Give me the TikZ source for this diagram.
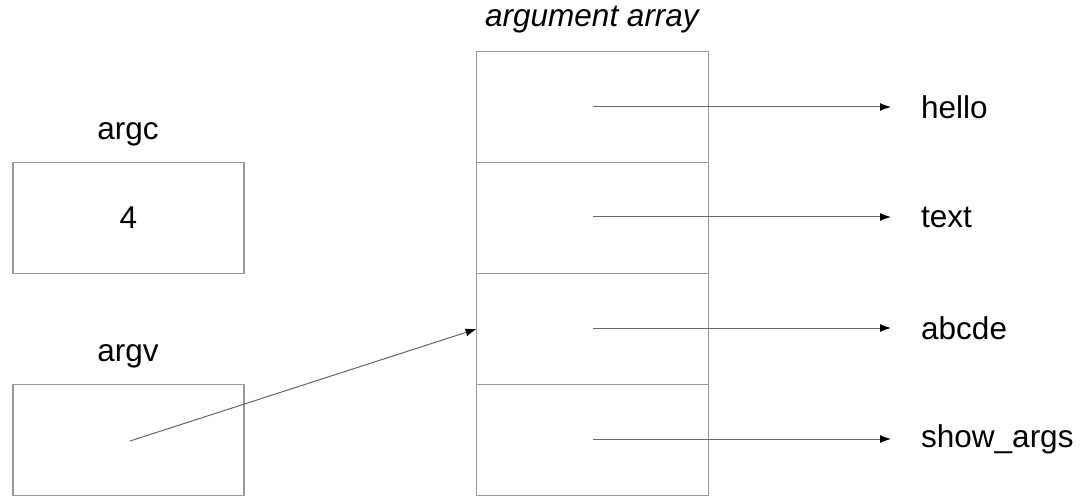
\documentclass[tikz,border=0pt]{standalone}
\usepackage{fontspec}
\setmainfont{Liberation Sans}
\usetikzlibrary{arrows.meta}
\begin{document}
\begin{tikzpicture}[x=1pt,y=-1pt,
  cellbox/.style={draw=black!40, line width=1.3pt, minimum width=231pt, minimum height=111pt, inner sep=0pt, outer sep=0pt},
  lbl/.style={font=\fontsize{31.5}{36}\selectfont, inner sep=0pt},
  ptr/.style={draw=black!60, line width=1pt, -{Latex[length=11pt,width=8pt,color=black]}}]
\useasboundingbox (0,0) rectangle (1082,497);
\node[lbl] (argclbl) at (128,134) {argc};
\node[cellbox, lbl] (argc) at (128.5,218) {4};
\node[lbl] (argvlbl) at (128,356) {argv};
\node[cellbox] (argv) at (128.5,440) {};
\node[lbl, font=\fontsize{31.5}{36}\selectfont\itshape] (title) at (592,20) {argument array};
\node[cellbox, minimum width=232pt] (c1) at (592.5,107) {};
\node[cellbox, minimum width=232pt] (c2) at (592.5,218) {};
\node[cellbox, minimum width=232pt] (c3) at (592.5,329) {};
\node[cellbox, minimum width=232pt] (c4) at (592.5,440) {};
\node[lbl, anchor=west] (t1) at (921,107) {hello};
\node[lbl, anchor=west] (t2) at (921,217) {text};
\node[lbl, anchor=west] (t3) at (921,328) {abcde};
\node[lbl, anchor=west] (t4) at (921,439) {show\_args};
\coordinate (s1) at (593,107);
\coordinate (s2) at (593,217);
\coordinate (s3) at (593,328);
\coordinate (s4) at (593,439);
\coordinate (a0) at (130,441);
\draw[ptr, shorten >=30pt] (s1) -- (s1 -| t1.west);
\draw[ptr, shorten >=30pt] (s2) -- (s2 -| t2.west);
\draw[ptr, shorten >=30pt] (s3) -- (s3 -| t3.west);
\draw[ptr, shorten >=30pt] (s4) -- (s4 -| t4.west);
\draw[ptr] (a0) -- (c3.west);
\end{tikzpicture}
\end{document}
